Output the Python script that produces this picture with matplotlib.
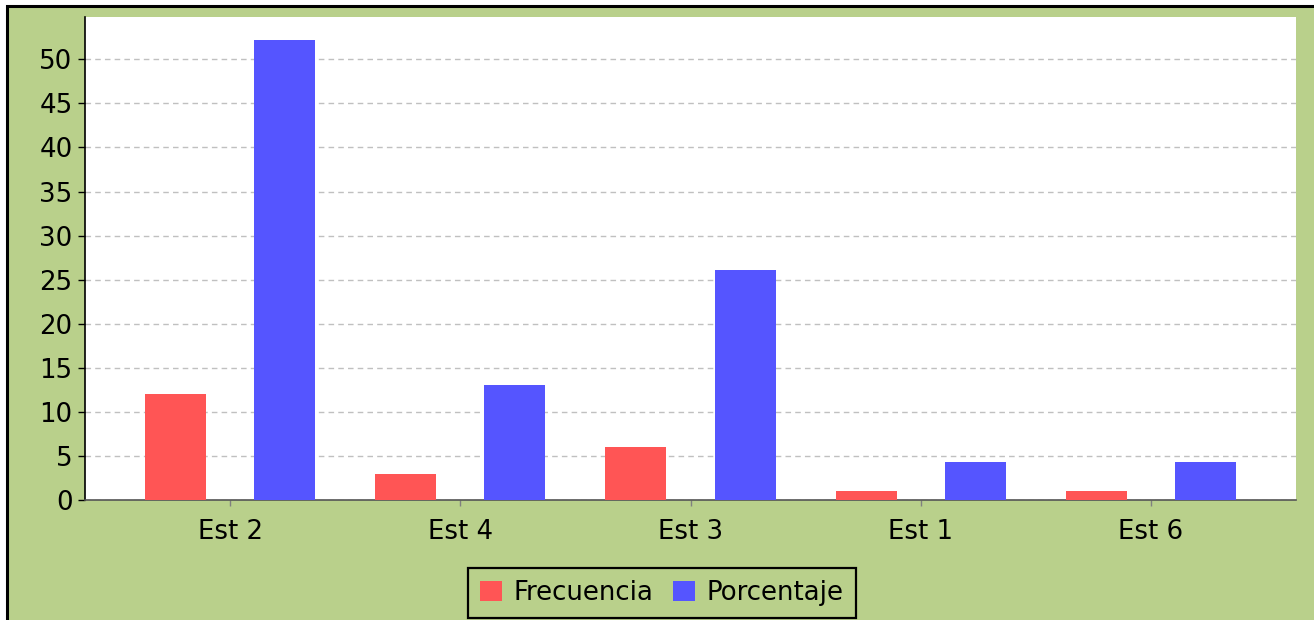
import matplotlib.pyplot as plt
import matplotlib.patches as mpatches
import numpy as np

categorias = ['Est 2', 'Est 4', 'Est 3', 'Est 1', 'Est 6']
frecuencia = [12, 3, 6, 1, 1]
porcentaje = [52.17, 13.04, 26.09, 4.35, 4.35]

W, H = 1314, 620
fig = plt.figure(figsize=(W / 100, H / 100), dpi=100, facecolor='white')

# green panel with black top/left border
bg = mpatches.Rectangle((7 / W, -0.05), 1.1, (H - 6) / H + 0.05,
                        transform=fig.transFigure, facecolor='#b9d08b',
                        edgecolor='black', linewidth=2.2, zorder=-10)
fig.patches.append(bg)

ax = fig.add_axes([85 / W, 120 / H, (1296 - 85) / W, (500 - 17) / H])
ax.set_facecolor('white')

x = np.arange(len(categorias))
ancho = 0.265
off = 0.237
ax.bar(x - off, frecuencia, ancho, color='#ff5555', label='Frecuencia', zorder=3)
ax.bar(x + off, porcentaje, ancho, color='#5555ff', label='Porcentaje', zorder=3)

ax.set_xlim(-0.63, 4.63)
ax.set_ylim(0, 54.8)
ax.set_yticks(range(0, 55, 5))
ax.set_xticks(x)
ax.set_xticklabels(categorias)

fs = 18.7
ax.tick_params(axis='y', labelsize=fs, length=5, width=1, direction='out', pad=4)
ax.tick_params(axis='x', labelsize=fs, length=4, width=1, color='gray',
               direction='out', pad=10)

ax.yaxis.grid(True, color='#c0c0c0', linestyle=(0, (4, 3)), linewidth=1, zorder=0)
ax.set_axisbelow(True)

for s in ['top', 'right']:
    ax.spines[s].set_visible(False)
ax.spines['left'].set_color('black')
ax.spines['left'].set_linewidth(1.2)
ax.spines['bottom'].set_color('#555555')
ax.spines['bottom'].set_linestyle((0, (1, 1)))
ax.spines['bottom'].set_linewidth(1.2)

leg = fig.legend(loc='center', bbox_to_anchor=(662 / W, 27 / H), ncol=2,
                 fontsize=fs, frameon=True, fancybox=False,
                 handlelength=0.85, handleheight=0.85, handletextpad=0.45,
                 columnspacing=0.75, borderpad=0.45, borderaxespad=0)
leg.get_frame().set_facecolor('#b9d08b')
leg.get_frame().set_edgecolor('black')
leg.get_frame().set_linewidth(1.6)
leg.get_frame().set_alpha(1)

fig.savefig('out.png', dpi=100, facecolor=fig.get_facecolor())
